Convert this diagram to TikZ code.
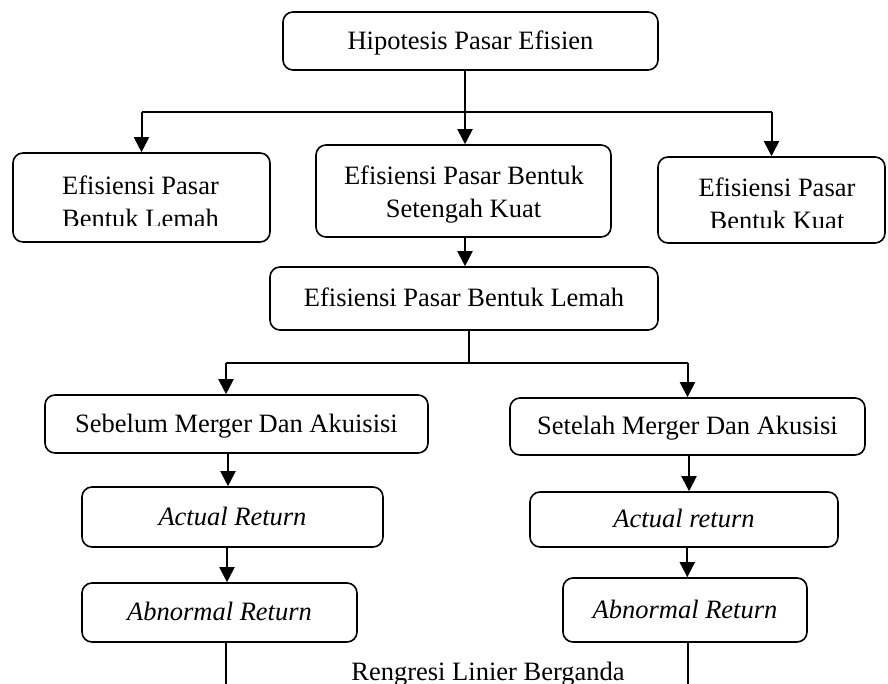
\documentclass[tikz,border=0pt]{standalone}
\usepackage{fontspec}
\setmainfont{Liberation Serif}
\usetikzlibrary{arrows.meta}
\begin{document}
\begin{tikzpicture}[x=1pt,y=-1pt,
  fnt/.style={font=\fontsize{26.5}{32}\selectfont},
  box/.style={draw, line width=1.6pt, rounded corners=10pt, inner sep=0pt, fnt,
    text height=17.5pt, text depth=1.3pt, align=center},
  txt/.style={inner sep=0pt, fnt, anchor=base},
  conn/.style={line width=2pt},
  thin/.style={line width=1.4pt},
  arr/.style={conn, -{Triangle[width=15pt,length=15pt]}}]
\useasboundingbox (0,0) rectangle (888,684);

% boxes
\node[box, minimum width=375pt, minimum height=58pt] (hpe) at (470.5,41) {Hipotesis Pasar Efisien};
\node[box, minimum width=257pt, minimum height=89pt] (weak) at (141.5,197.5) {};
\node[box, minimum width=295pt, minimum height=92pt] (semi) at (463.5,191) {};
\node[box, minimum width=227pt, minimum height=86pt] (strong) at (771.5,200) {};
\node[box, minimum width=388pt, minimum height=63pt] (lemah) at (464,298.5) {Efisiensi Pasar Bentuk Lemah};
\node[box, minimum width=383pt, minimum height=58pt] (sebelum) at (236.5,424) {Sebelum Merger Dan Akuisisi};
\node[box, minimum width=355pt, minimum height=57pt] (setelah) at (687.5,426.5) {Setelah Merger Dan Akusisi};
\node[box, minimum width=301pt, minimum height=60pt] (ar1) at (232.5,517) {\itshape Actual Return};
\node[box, minimum width=308pt, minimum height=55pt] (ar2) at (684,519.5) {\itshape Actual return};
\node[box, minimum width=275pt, minimum height=59pt] (ab1) at (219.5,612.5) {\itshape Abnormal Return};
\node[box, minimum width=244pt, minimum height=64pt] (ab2) at (685,610) {\itshape Abnormal Return};

% texts of the two-line boxes
\node[txt] (weak-t1) at (140.5,195) {Efisiensi Pasar};
\node[txt] (semi-t1) at (464,185) {Efisiensi Pasar Bentuk};
\node[txt] (semi-t2) at (463.5,218) {Setengah Kuat};
\node[txt] (strong-t1) at (777,197) {Efisiensi Pasar};
\begin{scope}
  \clip (0,0) rectangle (888,226);
  \node[txt] (weak-t2) at (140.5,228) {Bentuk Lemah};
\end{scope}
\begin{scope}
  \clip (0,0) rectangle (888,228);
  \node[txt] (strong-t2) at (777,230) {Bentuk Kuat};
\end{scope}

% bottom label
\node[txt] (reg) at (488,680) {Rengresi Linier Berganda};

% connectors
\coordinate (topbus) at (465,112);
\coordinate (midbus) at (469,363);
\coordinate (end1) at (226,684);
\coordinate (end2) at (688,684);
\coordinate (sebin) at ([xshift=-10.5pt]sebelum.north);

\draw[arr] ([xshift=-5.5pt]hpe.south) -- ([xshift=1.5pt]semi.north);
\draw[conn] (topbus -| weak.north) -- (topbus -| strong.north);
\draw[arr] (topbus -| weak.north) -- (weak.north);
\draw[arr] (topbus -| strong.north) -- (strong.north);
\draw[arr] ([xshift=1.5pt]semi.south) -- ([xshift=1pt]lemah.north);
\draw[thin] ([xshift=5pt]lemah.south) -- (midbus);
\draw[conn] (midbus -| sebin) -- (midbus -| setelah.north);
\draw[arr] (midbus -| sebin) -- (sebin);
\draw[arr] (midbus -| setelah.north) -- (setelah.north);
\draw[arr] ([xshift=-8.5pt]sebelum.south) -- ([xshift=-4.5pt]ar1.north);
\draw[arr] ([xshift=-5.5pt]ar1.south) -- ([xshift=7.5pt]ab1.north);
\draw[arr] ([xshift=1.5pt]setelah.south) -- ([xshift=5pt]ar2.north);
\draw[arr] ([xshift=3.3pt]ar2.south) -- ([xshift=2.3pt]ab2.north);
\draw[thin] ([xshift=6.5pt]ab1.south) -- (end1);
\draw[thin] ([xshift=3pt]ab2.south) -- (end2);
\end{tikzpicture}
\end{document}
